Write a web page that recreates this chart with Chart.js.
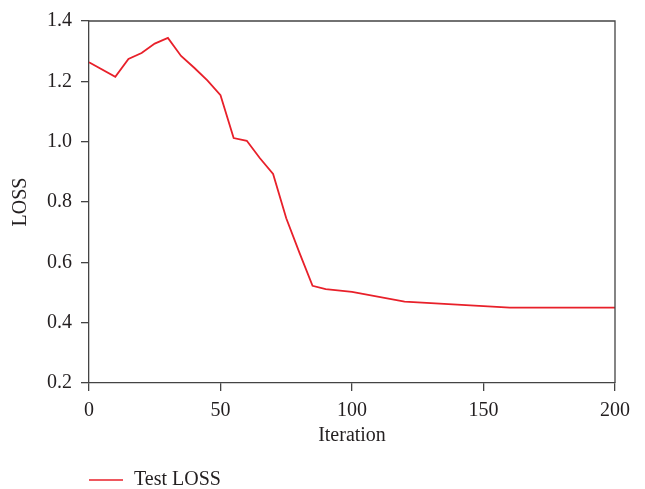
<!DOCTYPE html>
<html>
<head>
<meta charset="utf-8">
<script src="https://cdn.jsdelivr.net/npm/chart.js@4/dist/chart.umd.min.js"></script>
<style>
  html, body { margin: 0; padding: 0; background: #fff; }
  #wrap { width: 645px; height: 489px; }
</style>
</head>
<body>
<div id="wrap"><canvas id="lossChart"></canvas></div>
<script>
// values
const iterations = [0, 10, 15, 20, 25, 30, 35, 40, 45, 50, 55, 60, 65, 70, 75, 80, 85, 90, 100, 120, 140, 160, 180, 200];
const testLoss = [1.263, 1.215, 1.274, 1.294, 1.325, 1.344, 1.284, 1.245, 1.203, 1.154, 1.012, 1.003, 0.945, 0.893, 0.746, 0.632, 0.522, 0.511, 0.502, 0.470, 0.460, 0.450, 0.450, 0.450];
const xTicks = [0, 50, 100, 150, 200];
const yTicks = [0.2, 0.4, 0.6, 0.8, 1.0, 1.2, 1.4];

const axisColor = "#444";
const textColor = "#231f20";
const lineColor = "#e8202a";
const serif = "'Liberation Serif', 'DejaVu Serif', serif";

// top and right frame lines, plus the legend under the x title
const framePlugin = {
    id: "frame",
    afterDraw(chart) {
        const { ctx, chartArea: a } = chart;
        ctx.save();
        ctx.strokeStyle = axisColor;
        ctx.lineWidth = 1.3;
        ctx.beginPath();
        ctx.moveTo(a.left, a.top);
        ctx.lineTo(a.right, a.top);
        ctx.lineTo(a.right, a.bottom);
        ctx.stroke();

        const ds = chart.data.datasets[0];
        const ly = 480;
        ctx.strokeStyle = ds.borderColor;
        ctx.lineWidth = 1.5;
        ctx.beginPath();
        ctx.moveTo(a.left, ly);
        ctx.lineTo(a.left + 34, ly);
        ctx.stroke();
        ctx.fillStyle = textColor;
        ctx.font = "20px " + serif;
        ctx.textBaseline = "middle";
        ctx.fillText(ds.label, a.left + 45, ly);
        ctx.restore();
    }
};

function loadLossChart() {
    const ctx = document.getElementById("lossChart");
    if (!ctx) return;

    new Chart(ctx, {
        type: "line",
        data: {
            datasets: [{
                label: "Test LOSS",
                data: iterations.map((x, i) => ({ x: x, y: testLoss[i] })),
                borderColor: lineColor,
                borderWidth: 1.8,
                pointRadius: 0,
                tension: 0,
                fill: false
            }]
        },
        options: {
            responsive: true,
            maintainAspectRatio: false,
            animation: false,
            layout: { padding: { left: 0, top: 17, right: 30, bottom: 36 } },
            plugins: {
                legend: { display: false },
                tooltip: { enabled: false }
            },
            scales: {
                x: {
                    type: "linear",
                    min: 0,
                    max: 200,
                    afterBuildTicks: (s) => { s.ticks = xTicks.map(v => ({ value: v })); },
                    afterFit: (s) => { s.height = 70; },
                    grid: { display: true, drawOnChartArea: false, drawTicks: true, tickLength: 8, color: axisColor, lineWidth: 1.3 },
                    border: { display: true, color: axisColor, width: 1.3 },
                    ticks: { padding: 8, color: textColor, font: { family: serif, size: 20 }, maxRotation: 0 },
                    title: { display: true, text: "Iteration", color: textColor, font: { family: serif, size: 20 }, padding: { top: 0, bottom: 5 } }
                },
                y: {
                    min: 0.2,
                    max: 1.4,
                    afterBuildTicks: (s) => { s.ticks = yTicks.map(v => ({ value: v })); },
                    afterFit: (s) => { s.width = 89; },
                    grid: { display: true, drawOnChartArea: false, drawTicks: true, tickLength: 8, color: axisColor, lineWidth: 1.3 },
                    border: { display: true, color: axisColor, width: 1.3 },
                    ticks: { padding: 9, color: textColor, font: { family: serif, size: 20 }, callback: (v) => v.toFixed(1) },
                    title: { display: true, text: "LOSS", color: textColor, font: { family: serif, size: 20 }, padding: { top: 9, bottom: 0 } }
                }
            }
        },
        plugins: [framePlugin]
    });
}

document.addEventListener("DOMContentLoaded", () => {
    loadLossChart();
});
</script>
</body>
</html>
